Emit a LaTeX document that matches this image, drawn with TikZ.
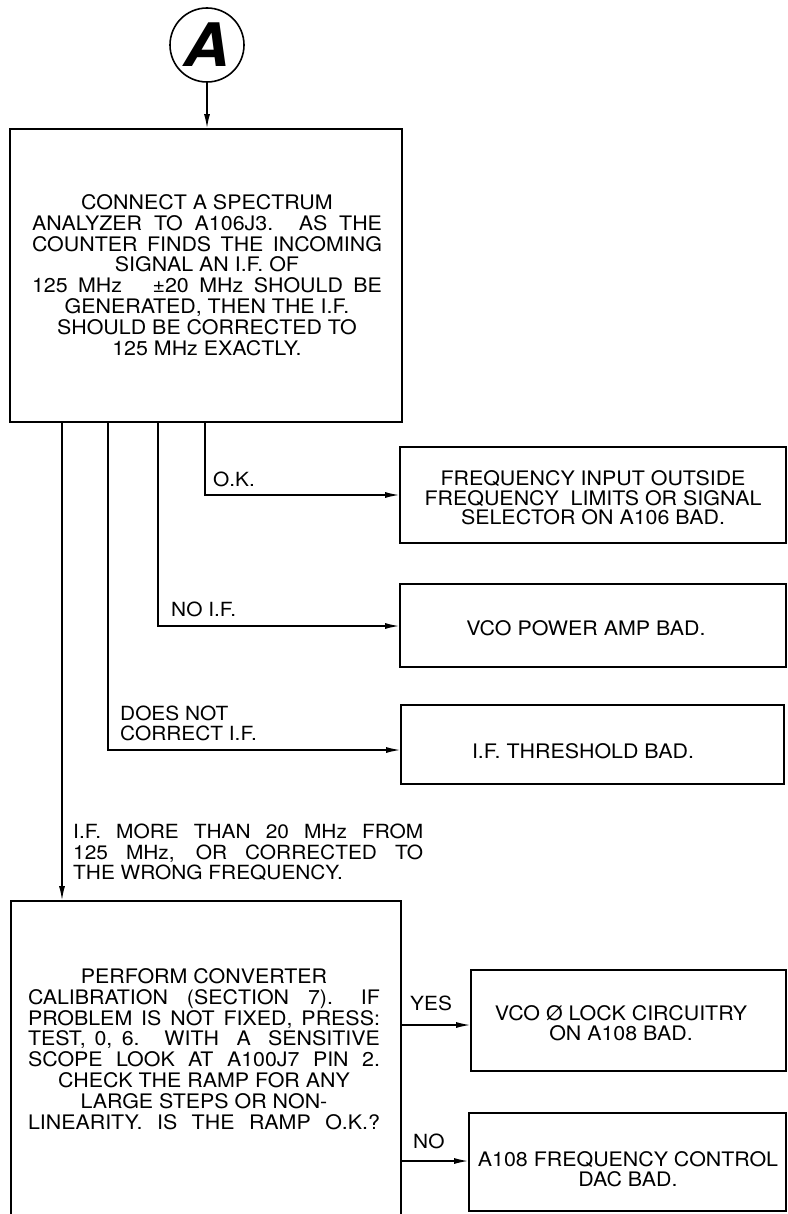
\documentclass[tikz,border=0pt]{standalone}
\usepackage{fontspec}
\setmainfont{TeX Gyre Heros}[FakeStretch=1.07]
\usetikzlibrary{arrows.meta}
\begin{document}
\begin{tikzpicture}[x=1pt,y=-1pt,
  box/.style={draw,line width=1.6pt,rectangle,inner sep=0pt},
  txt/.style={inner sep=0pt,align=center,font=\fontsize{20}{20.8}\selectfont},
  rtxt/.style={inner sep=0pt,align=center,font=\fontsize{20}{19.5}\selectfont},
  lbl/.style={inner sep=0pt,anchor=west,align=left,font=\fontsize{19.5}{20.5}\selectfont},
  arr/.style={line width=1.4pt,-{Latex[length=14pt,width=6pt]}},
]
\clip (0,0) rectangle (787,1214);
\fill[white] (0,0) rectangle (787,1214);

% start connector
\node[draw,circle,line width=1.6pt,minimum size=74pt,inner sep=0pt] (A) at (207,45)
  {\fontsize{60}{60}\selectfont\bfseries\itshape A};

% main box
\node[box,minimum width=392pt,minimum height=293pt] (main) at (206,275.5) {};
\node[txt] (maintext) at (207,275) {CONNECT A SPECTRUM\\
  \makebox[350pt][s]{ANALYZER TO A106J3. AS THE}\\
  \makebox[350pt][s]{COUNTER FINDS THE INCOMING}\\
  SIGNAL AN I.F. OF\\
  \makebox[350pt][s]{125 MHz \quad ±20 MHz SHOULD BE}\\
  GENERATED, THEN THE I.F.\\
  SHOULD BE CORRECTED TO\\
  125 MHz EXACTLY.};

% right boxes
\node[box,minimum width=386pt,minimum height=96pt] (b1) at (593,495) {};
\node[rtxt] (b1text) at (593,498) {FREQUENCY INPUT OUTSIDE\\
  FREQUENCY\ \ LIMITS OR SIGNAL\\
  SELECTOR ON A106 BAD.};

\node[box,minimum width=386pt,minimum height=83pt] (b2) at (593,625.5) {};
\node[rtxt] (b2text) at (586,628) {VCO POWER AMP BAD.};

\node[box,minimum width=383pt,minimum height=79pt] (b3) at (592.5,744.5) {};
\node[rtxt] (b3text) at (583,751) {I.F. THRESHOLD BAD.};

% bottom box
\node[box,minimum width=390pt,minimum height=339pt] (bot) at (206,1070.5) {};
\node[txt] (bottext) at (204,1049) {PERFORM CONVERTER\\
  \makebox[352pt][s]{CALIBRATION \ (SECTION \ 7). \ IF}\\
  \makebox[352pt][s]{PROBLEM IS NOT FIXED, PRESS:}\\
  \makebox[352pt][s]{TEST, 0, 6. \ WITH \ A \ SENSITIVE}\\
  \makebox[352pt][s]{SCOPE \ LOOK \ AT \ A100J7 \ PIN \ 2.}\\
  CHECK THE RAMP FOR ANY\\
  LARGE STEPS OR NON-\\
  \makebox[352pt][s]{LINEARITY. IS THE RAMP O.K.?}};

\node[box,minimum width=315pt,minimum height=101pt] (byes) at (628.5,1020.5) {};
\node[rtxt] (byestext) at (621,1023) {VCO Ø LOCK CIRCUITRY\\ON A108 BAD.};

\node[box,minimum width=317pt,minimum height=98pt] (bno) at (627.5,1162) {};
\node[rtxt] (bnotext) at (628,1169) {A108 FREQUENCY CONTROL\\DAC BAD.};

% labels
\node[lbl] (lok) at (213,479) {O.K.};
\node[lbl] (lnoif) at (171,609) {NO I.F.};
\node[lbl] (ldoes) at (120,723.5) {DOES NOT\\CORRECT I.F.};
\node[lbl] (lif) at (73,852.5) {\makebox[350pt][s]{I.F. MORE THAN 20 MHz FROM}\\
  \makebox[350pt][s]{125 MHz, OR CORRECTED TO}\\
  THE WRONG FREQUENCY.};
\node[lbl] (lyes) at (410,1003) {YES};
\node[lbl] (lno) at (413,1141) {NO};

% connectors
\draw[arr] (A.south) -- (A.south |- main.north);
\coordinate (k1) at (205,495);
\coordinate (k2) at (158,626);
\coordinate (k3) at (108,750);
\coordinate (k4) at (62,600);
\draw[arr] (main.south -| k1) |- (k1 -| b1.west);
\draw[arr] (main.south -| k2) |- (k2 -| b2.west);
\draw[arr] (main.south -| k3) |- (k3 -| b3.west);
\draw[arr] (main.south -| k4) -- (k4 |- bot.north);
\coordinate (ky) at (300,1025);
\coordinate (kn) at (300,1161);
\draw[arr] (ky -| bot.east) -- (ky -| byes.west);
\draw[arr] (kn -| bot.east) -- (kn -| bno.west);
\end{tikzpicture}
\end{document}
